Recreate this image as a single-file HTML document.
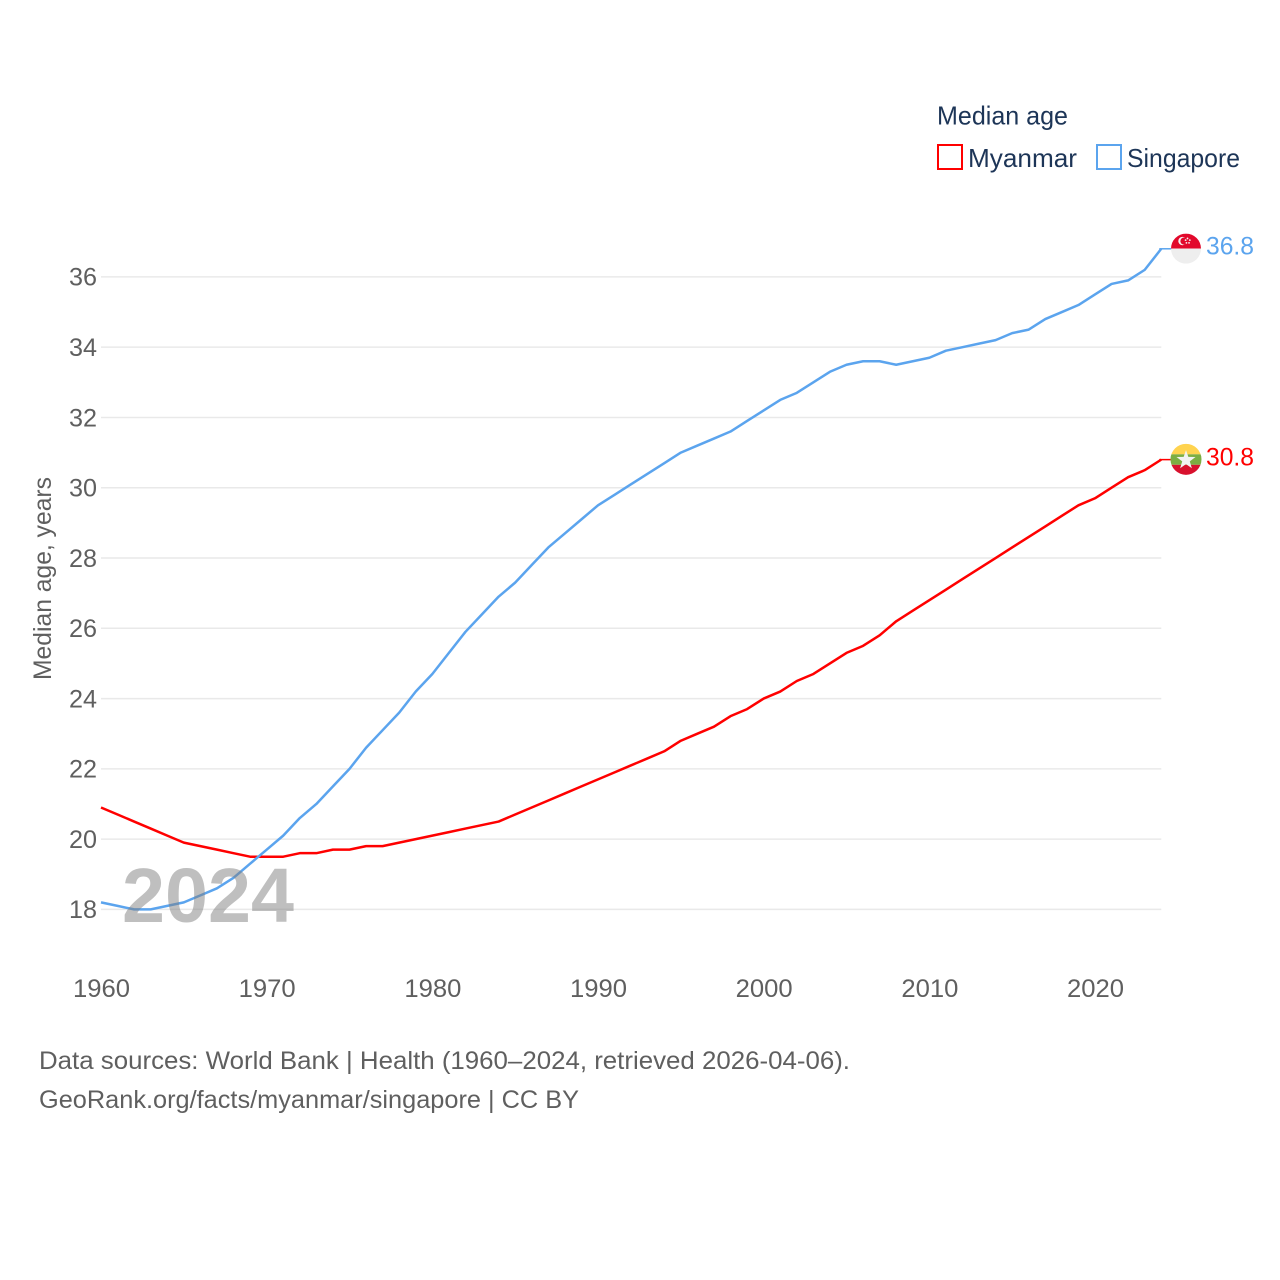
<!DOCTYPE html>
<html>
<head>
<meta charset="utf-8">
<title>Median age: Myanmar and Singapore</title>
<style>
html,body{margin:0;padding:0;background:#fff;width:1280px;height:1280px;overflow:hidden}
svg{display:block}
text{font-family:"Liberation Sans",sans-serif}
</style>
</head>
<body>
<svg id="chart" width="1280" height="1280" viewBox="0 0 1280 1280" xmlns="http://www.w3.org/2000/svg">
  <defs>
    <clipPath id="sg-clip"><circle id="sg-clip-circle" cx="1186" cy="248.5" r="15"></circle></clipPath>
    <clipPath id="mm-clip"><circle id="mm-clip-circle" cx="1186" cy="459" r="15.5"></circle></clipPath>
  </defs>
  <g id="grid"></g>
  <g id="ylabels"></g>
  <g id="xlabels"></g>
  <text transform="translate(51,680) rotate(-90)" font-size="25" fill="#5f5f5f" textLength="203" lengthAdjust="spacingAndGlyphs">Median age, years</text>
  <g id="series"></g>
  <text x="122" y="922" font-size="77" font-weight="bold" fill="#808080" opacity="0.5" textLength="172" lengthAdjust="spacingAndGlyphs">2024</text>
  <g id="flags"></g>
  <g>
    <text x="937" y="124.5" font-size="26" fill="#1d3557" textLength="131" lengthAdjust="spacingAndGlyphs">Median age</text>
    <rect x="938" y="145" width="24" height="24" fill="#fff" stroke="#ff0000" stroke-width="2"></rect>
    <text x="968" y="167" font-size="26" fill="#1d3557" textLength="109" lengthAdjust="spacingAndGlyphs">Myanmar</text>
    <rect x="1097" y="145" width="24" height="24" fill="#fff" stroke="#5ba4ee" stroke-width="2"></rect>
    <text x="1127" y="167" font-size="26" fill="#1d3557" textLength="113" lengthAdjust="spacingAndGlyphs">Singapore</text>
  </g>
  <text x="39" y="1069" font-size="25" fill="#5f5f5f" textLength="811" lengthAdjust="spacingAndGlyphs">Data sources: World Bank | Health (1960–2024, retrieved 2026-04-06).</text>
  <text x="39" y="1108" font-size="25" fill="#5f5f5f" textLength="540" lengthAdjust="spacingAndGlyphs">GeoRank.org/facts/myanmar/singapore | CC BY</text>
</svg>
<script>
const years = [1960,1961,1962,1963,1964,1965,1966,1967,1968,1969,1970,1971,1972,1973,1974,1975,1976,1977,1978,1979,1980,1981,1982,1983,1984,1985,1986,1987,1988,1989,1990,1991,1992,1993,1994,1995,1996,1997,1998,1999,2000,2001,2002,2003,2004,2005,2006,2007,2008,2009,2010,2011,2012,2013,2014,2015,2016,2017,2018,2019,2020,2021,2022,2023,2024];
const myanmar = [20.9,20.7,20.5,20.3,20.1,19.9,19.8,19.7,19.6,19.5,19.5,19.5,19.6,19.6,19.7,19.7,19.8,19.8,19.9,20.0,20.1,20.2,20.3,20.4,20.5,20.7,20.9,21.1,21.3,21.5,21.7,21.9,22.1,22.3,22.5,22.8,23.0,23.2,23.5,23.7,24.0,24.2,24.5,24.7,25.0,25.3,25.5,25.8,26.2,26.5,26.8,27.1,27.4,27.7,28.0,28.3,28.6,28.9,29.2,29.5,29.7,30.0,30.3,30.5,30.8];
const singapore = [18.2,18.1,18.0,18.0,18.1,18.2,18.4,18.6,18.9,19.3,19.7,20.1,20.6,21.0,21.5,22.0,22.6,23.1,23.6,24.2,24.7,25.3,25.9,26.4,26.9,27.3,27.8,28.3,28.7,29.1,29.5,29.8,30.1,30.4,30.7,31.0,31.2,31.4,31.6,31.9,32.2,32.5,32.7,33.0,33.3,33.5,33.6,33.6,33.5,33.6,33.7,33.9,34.0,34.1,34.2,34.4,34.5,34.8,35.0,35.2,35.5,35.8,35.9,36.2,36.8];
const yTicks = [18,20,22,24,26,28,30,32,34,36];
const xTicks = [1960,1970,1980,1990,2000,2010,2020];

const NS = 'http://www.w3.org/2000/svg';
function xScale(v){ return 101 + (v - 1960) * (1095 - 101) / 60; }
function yScale(v){ return 909.4 - (v - 18) * (909.4 - 276.9) / 18; }
function make(tag, attrs, parent){
  const el = document.createElementNS(NS, tag);
  for (const k in attrs) el.setAttribute(k, attrs[k]);
  parent.appendChild(el);
  return el;
}
const grid = document.getElementById('grid');
const ylabels = document.getElementById('ylabels');
const xlabels = document.getElementById('xlabels');
const seriesG = document.getElementById('series');
const flags = document.getElementById('flags');

yTicks.forEach(function(t){
  const line = make('line', {x1:xScale(1960), x2:xScale(2024), y1:yScale(t), y2:yScale(t), stroke:'#e9e9e9', 'stroke-width':1.5}, grid);
  
  
  const label = make('text', {x:97, y:yScale(t)+8.8, 'font-size':25, fill:'#5f5f5f', 'text-anchor':'end', textLength:28, lengthAdjust:'spacingAndGlyphs'}, ylabels);
  label.textContent = String(t);
  
  
});
xTicks.forEach(function(t){
  const label = make('text', {x:xScale(t)+0.5, y:997, 'font-size':25, fill:'#5f5f5f', 'text-anchor':'middle', textLength:57, lengthAdjust:'spacingAndGlyphs'}, xlabels);
  label.textContent = String(t);
  
  
});
function pathFor(vals){
  return vals.map(function(v,i){ return (i ? 'L' : 'M') + xScale(years[i]).toFixed(2) + ' ' + yScale(v).toFixed(2); }).join(' ');
}
const lineMm = make('path', {d:pathFor(myanmar), fill:'none', stroke:'#ff0000', 'stroke-width':2.5, 'stroke-linejoin':'round'}, seriesG);


const lineSg = make('path', {d:pathFor(singapore), fill:'none', stroke:'#5ba4ee', 'stroke-width':2.5, 'stroke-linejoin':'round'}, seriesG);



const lastMm = myanmar[myanmar.length-1];
const lastSg = singapore[singapore.length-1];
const endX = xScale(2024);
const cx = 1186;
const sgY = yScale(lastSg) - 0.2;
const mmY = yScale(lastMm) - 0.3;
document.getElementById('sg-clip-circle').setAttribute('cy', sgY);
document.getElementById('mm-clip-circle').setAttribute('cy', mmY);

const connSg = make('line', {x1:endX-2, x2:cx-14, y1:yScale(lastSg), y2:yScale(lastSg), stroke:'#5ba4ee', 'stroke-width':1.5}, flags);


const connMm = make('line', {x1:endX-2, x2:cx-14, y1:yScale(lastMm), y2:yScale(lastMm), stroke:'#ff0000', 'stroke-width':1.5}, flags);



/* Singapore flag */
const sg = make('g', {'clip-path':'url(#sg-clip)'}, flags);


make('rect', {x:cx-15, y:sgY-15, width:30, height:15, fill:'#e2092c'}, sg);
make('rect', {x:cx-15, y:sgY, width:30, height:15, fill:'#eeeeee'}, sg);
make('circle', {cx:cx-3.5, cy:sgY-7.5, r:4.2, fill:'#f4f4f4'}, sg);
make('circle', {cx:cx-2, cy:sgY-7.5, r:3.6, fill:'#e2092c'}, sg);
[[0,-11.5],[2.6,-9.6],[1.7,-6.6],[-1.2,-6.6],[-2.1,-9.6]].forEach(function(o){
  make('circle', {cx:cx+1.5+o[0]*0.9, cy:sgY+o[1]*0.9+0.2, r:0.9, fill:'#f4f4f4'}, sg);
});

/* Myanmar flag */
const mm = make('g', {'clip-path':'url(#mm-clip)'}, flags);


make('rect', {x:cx-16, y:mmY-16, width:32, height:11, fill:'#ffd34f'}, mm);
make('rect', {x:cx-16, y:mmY-5, width:32, height:10.5, fill:'#7cae42'}, mm);
make('rect', {x:cx-16, y:mmY+5.5, width:32, height:11, fill:'#d8112d'}, mm);
const starPts = [];
for (let i = 0; i < 10; i++){
  const r = i % 2 ? 4 : 10;
  const a = -Math.PI/2 + i * Math.PI/5;
  starPts.push((cx + r*Math.cos(a)).toFixed(2) + ',' + (mmY + 0.8 + r*Math.sin(a)).toFixed(2));
}
make('polygon', {points:starPts.join(' '), fill:'#f2f2f2'}, mm);

const valSg = make('text', {x:1206, y:yScale(lastSg)+5.7, 'font-size':25, fill:'#5ba4ee', textLength:48, lengthAdjust:'spacingAndGlyphs'}, flags);
valSg.textContent = lastSg.toFixed(1);


const valMm = make('text', {x:1206, y:yScale(lastMm)+5.7, 'font-size':25, fill:'#ff0000', textLength:48, lengthAdjust:'spacingAndGlyphs'}, flags);
valMm.textContent = lastMm.toFixed(1);


</script>
</body>
</html>
